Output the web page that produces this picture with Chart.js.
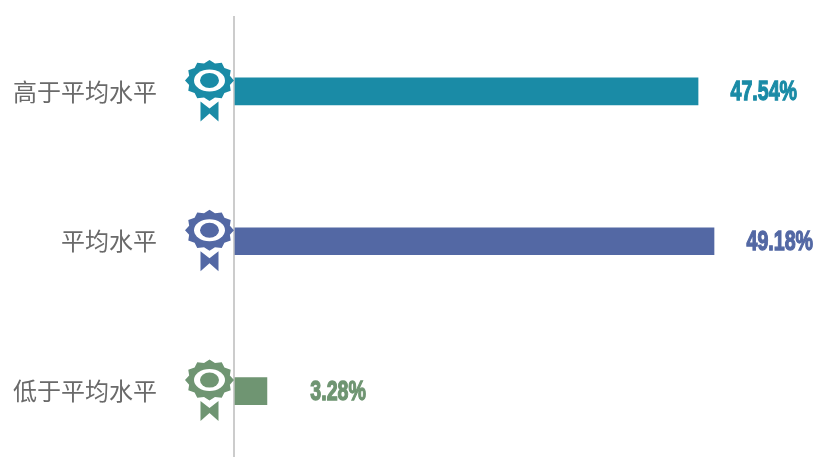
<!DOCTYPE html>
<html>
<head>
<meta charset="utf-8">
<script src="https://cdn.jsdelivr.net/npm/chart.js@4"></script>
<style>
html, body { margin: 0; padding: 0; background: #fff; overflow: hidden; height: 457px; }
#wrap { width: 816px; height: 457px; overflow: hidden; }
canvas { display: block; }
</style>
</head>
<body>
<div id="wrap"><canvas id="levelChart" width="816" height="466"></canvas></div>
<script>
var categories = ['高于平均水平', '平均水平', '低于平均水平'];
var percentValues = [47.54, 49.18, 3.28];
var barColors = ['#1a8ba6', '#5368a4', '#6f9572'];

// rosette + ribbon to the left of each bar, plus the value text on the right
var decorPlugin = {
    id: 'decor',
    afterDatasetsDraw: function (chart) {
        var ctx = chart.ctx;
        var meta = chart.getDatasetMeta(0);
        meta.data.forEach(function (bar, i) {
            drawBadge(ctx, chart.chartArea.left - 24.5, bar.y - 11, barColors[i]);

            // value text is right aligned at a fixed gap after the bar end
            ctx.save();
            ctx.translate(bar.x + 99, bar.y + 9);
            ctx.scale(0.7, 1);
            ctx.font = 'bold 28px "Liberation Sans Narrow", "Liberation Sans"';
            ctx.textAlign = 'right';
            ctx.textBaseline = 'alphabetic';
            ctx.fillStyle = barColors[i];
            ctx.strokeStyle = barColors[i];
            ctx.lineWidth = 1.3;
            var label = percentValues[i].toFixed(2) + '%';
            ctx.fillText(label, 0, 0);
            ctx.strokeText(label, 0, 0);
            ctx.restore();
        });
    }
};

function drawBadge(ctx, cx, cy, color) {
    var teeth = 12;
    ctx.save();
    ctx.fillStyle = color;
    ctx.beginPath();
    for (var i = 0; i < teeth * 2; i++) {
        var a = Math.PI * i / teeth - Math.PI / 2;
        var r = i % 2 === 0 ? 1 : 0.86;
        var px = cx + Math.cos(a) * 24.5 * r;
        var py = cy + Math.sin(a) * 20.5 * r;
        if (i === 0) ctx.moveTo(px, py); else ctx.lineTo(px, py);
    }
    ctx.closePath();
    ctx.fill();

    ctx.fillStyle = '#fff';
    ctx.beginPath();
    ctx.ellipse(cx, cy, 15.5, 11, 0, 0, Math.PI * 2);
    ctx.fill();
    ctx.fillStyle = color;
    ctx.beginPath();
    ctx.ellipse(cx, cy, 9.5, 7.5, 0, 0, Math.PI * 2);
    ctx.fill();

    // ribbon
    ctx.beginPath();
    ctx.moveTo(cx - 9, cy + 21);
    ctx.lineTo(cx, cy + 28);
    ctx.lineTo(cx + 9, cy + 21);
    ctx.lineTo(cx + 9, cy + 41);
    ctx.lineTo(cx, cy + 33);
    ctx.lineTo(cx - 9, cy + 41);
    ctx.closePath();
    ctx.fill();
    ctx.restore();
}

var ctx = document.getElementById('levelChart').getContext('2d');
var levelChart = new Chart(ctx, {
    type: 'bar',
    data: {
        labels: categories,
        datasets: [{
            data: percentValues,
            backgroundColor: barColors,
            barThickness: 27
        }]
    },
    plugins: [decorPlugin],
    options: {
        indexAxis: 'y',
        responsive: false,
        animation: false,
        layout: { padding: { top: 16.5, right: 94, bottom: 0, left: 0 } },
        plugins: {
            legend: { display: false },
            tooltip: { enabled: false }
        },
        scales: {
            x: {
                // small negative min leaves the axis line just left of the bars
                min: -0.1,
                max: 50,
                display: false
            },
            y: {
                afterFit: function (scale) {
                    scale.width = 234;
                    // the big tick padding would otherwise eat the plot height
                    scale.paddingTop = 0;
                    scale.paddingBottom = 0;
                },
                grid: { display: false, drawTicks: false },
                border: { display: true, color: '#cccccc', width: 2 },
                ticks: {
                    padding: 77,
                    color: '#6a6a6a',
                    font: { family: '"Noto Sans CJK SC"', size: 24 }
                }
            }
        }
    }
});
</script>
</body>
</html>
